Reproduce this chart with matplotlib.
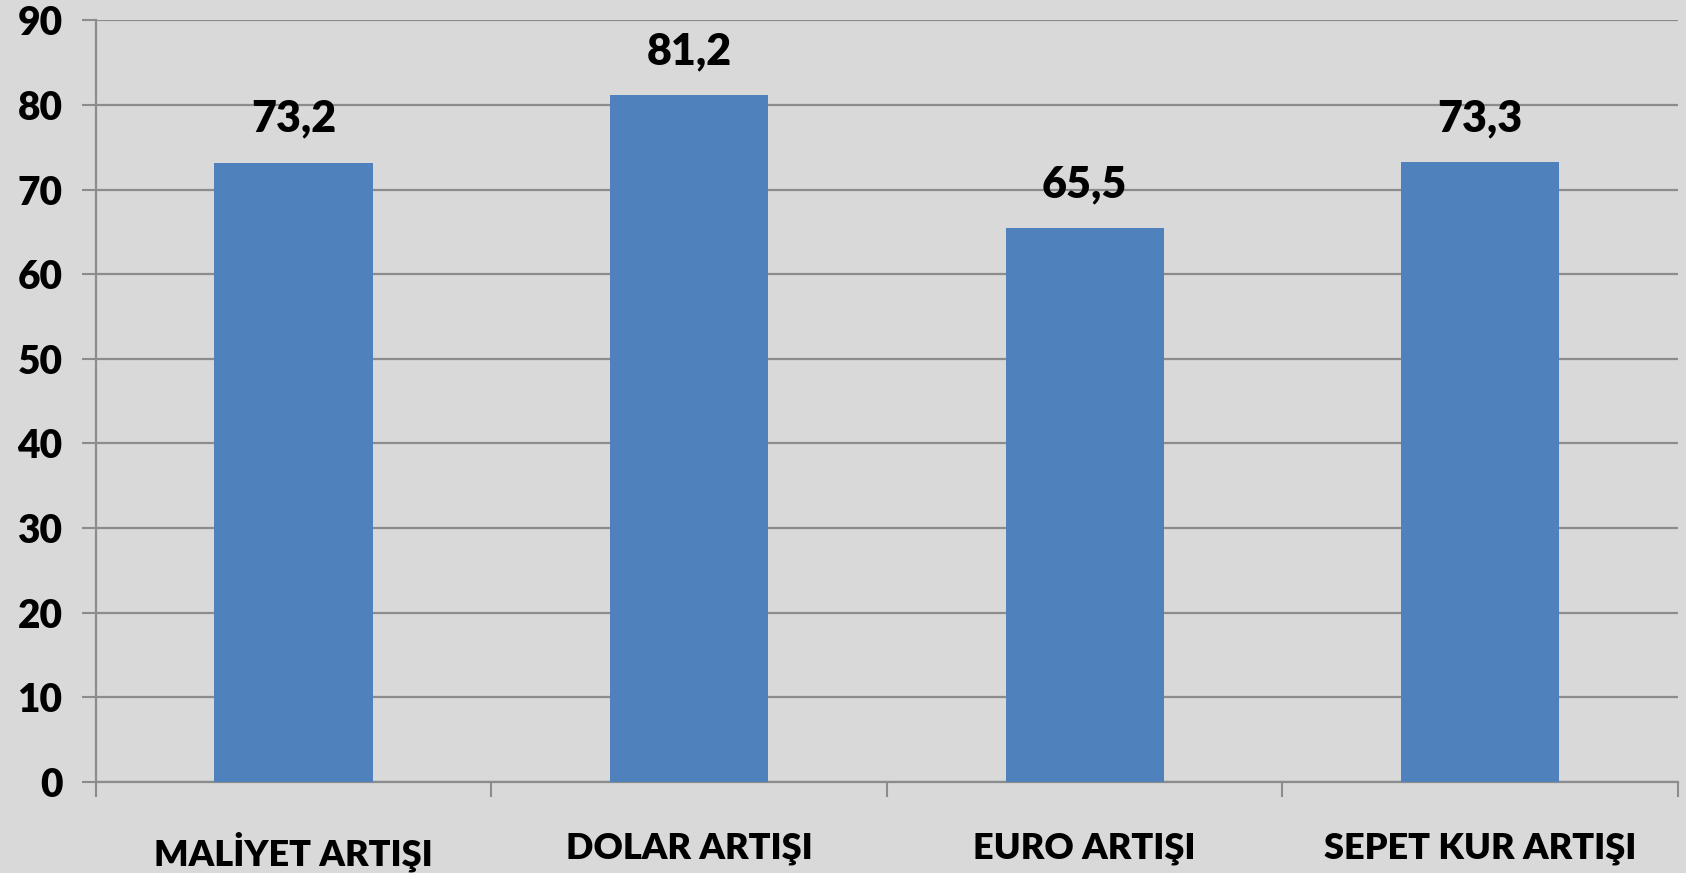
import numpy as np
import matplotlib.pyplot as plt
from matplotlib.ticker import FixedLocator

categories = ["MALİYET ARTIŞI", "DOLAR ARTIŞI", "EURO ARTIŞI", "SEPET KUR ARTIŞI"]
values = [73.2, 81.2, 65.5, 73.3]
labels = ["73,2", "81,2", "65,5", "73,3"]
yticks = [0, 10, 20, 30, 40, 50, 60, 70, 80, 90]

plt.rcParams['font.family'] = ['Lato', 'DejaVu Sans']
bg = "#D9D9D9"
grid_c = "#8C8C8C"
fw = "heavy"

fig = plt.figure(figsize=(16.86, 8.73), dpi=100, facecolor=bg)
ax = fig.add_axes([0.0568, 0.1046, 0.9385, 0.872])
ax.set_facecolor(bg)

x = np.arange(len(categories))
ax.bar(x, values, width=0.4, color="#4F81BD", zorder=3)
for xi, v, lab in zip(x, values, labels):
    ax.text(xi, v + 2.8, lab, ha="center", va="bottom", fontsize=31,
            fontweight=fw, color="black")

ax.set_xlim(-0.5, len(categories) - 0.5)
ax.set_ylim(0, 90)
ax.set_yticks(yticks)
ax.set_yticklabels([str(t) for t in yticks], fontsize=28, fontweight=fw)
ax.yaxis.grid(True, color=grid_c, linewidth=1.6, zorder=0)
ax.tick_params(axis="y", length=10, width=1.5, color=grid_c, pad=14)

ax.set_xticks(x)
ax.set_xticklabels(categories, fontsize=26, fontweight=fw)
ax.tick_params(axis="x", which="major", length=0, pad=36)
ax.xaxis.set_minor_locator(FixedLocator(np.arange(len(categories) + 1) - 0.5))
ax.tick_params(axis="x", which="minor", length=11, width=1.5, color=grid_c)

for s in ["top", "right"]:
    ax.spines[s].set_visible(False)
for s in ["left", "bottom"]:
    ax.spines[s].set_color(grid_c)
    ax.spines[s].set_linewidth(1.6)

fig.savefig("out.png", dpi=100, facecolor=bg)
